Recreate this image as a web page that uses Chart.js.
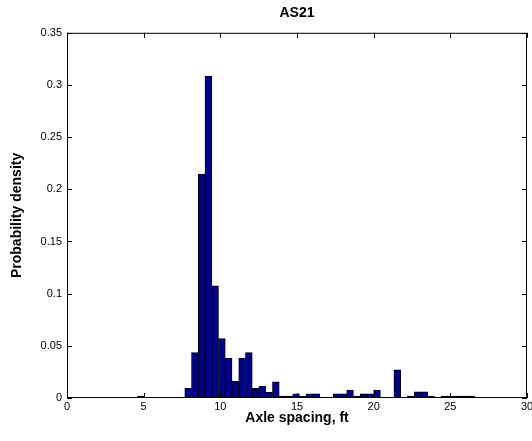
<!DOCTYPE html>
<html>
<head>
<meta charset="utf-8">
<script src="https://cdn.jsdelivr.net/npm/chart.js@4.4.1/dist/chart.umd.min.js"></script>
<style>
  html, body { margin: 0; padding: 0; background: #fff; overflow: hidden; }
  #wrap { width: 532px; height: 441px; }
</style>
</head>
<body>
<div id="wrap"><canvas id="histChart" width="532" height="441"></canvas></div>
<script>
// histogram bins (centre of each bin, ft)
const binCenters = [
  4.82, 5.26, 5.70, 6.14, 6.58, 7.02, 7.46, 7.90, 8.34, 8.78,
  9.22, 9.66, 10.10, 10.54, 10.98, 11.42, 11.86, 12.30, 12.74, 13.18,
  13.62, 14.06, 14.50, 14.94, 15.38, 15.82, 16.26, 16.70, 17.14, 17.58,
  18.02, 18.46, 18.90, 19.34, 19.78, 20.22, 20.66, 21.10, 21.54, 21.98,
  22.42, 22.86, 23.30, 23.74, 24.18, 24.62, 25.06, 25.50, 25.94, 26.38
];
const density = [
  0.0019, 0, 0, 0, 0, 0, 0, 0.0093, 0.0435, 0.2145,
  0.3085, 0.1075, 0.0570, 0.0380, 0.0160, 0.0380, 0.0435, 0.0093, 0.0112, 0.0054,
  0.0154, 0.0019, 0.0019, 0.0039, 0.0019, 0.0039, 0.0039, 0, 0, 0.0039,
  0.0039, 0.0077, 0.0019, 0.0039, 0.0039, 0.0077, 0, 0, 0.0270, 0,
  0.0019, 0.0058, 0.0058, 0.0019, 0, 0.0019, 0.0019, 0.0019, 0.0019, 0.0019
];
const xTicks = [0, 5, 10, 15, 20, 25, 30];
const yTicks = [0, 0.05, 0.1, 0.15, 0.2, 0.25, 0.3, 0.35];

const fontFam = '"Liberation Sans", Arial, Helvetica, sans-serif';

// MATLAB style box with inward tick marks
const matlabAxes = {
    id: 'matlabAxes',
    afterDatasetsDraw(chart) {
        const { ctx, chartArea: a, scales } = chart;
        const len = 5;
        ctx.save();
        ctx.strokeStyle = '#000';
        ctx.lineWidth = 1;
        ctx.strokeRect(a.left + 0.5, a.top + 0.5, a.right - a.left - 1, a.bottom - a.top - 1);
        ctx.beginPath();
        scales.x.ticks.forEach(t => {
            const px = Math.round(scales.x.getPixelForValue(t.value)) + 0.5;
            ctx.moveTo(px, a.bottom); ctx.lineTo(px, a.bottom - len);
            ctx.moveTo(px, a.top); ctx.lineTo(px, a.top + len);
        });
        scales.y.ticks.forEach(t => {
            const py = Math.round(scales.y.getPixelForValue(t.value)) + 0.5;
            ctx.moveTo(a.left, py); ctx.lineTo(a.left + len, py);
            ctx.moveTo(a.right, py); ctx.lineTo(a.right - len, py);
        });
        ctx.stroke();
        ctx.restore();
    }
};

const ctx = document.getElementById('histChart').getContext('2d');
new Chart(ctx, {
    type: 'bar',
    data: {
        datasets: [{
            data: binCenters.map((c, i) => ({ x: c, y: density[i] })),
            backgroundColor: '#00008f',
            borderColor: '#000000',
            borderWidth: 1,
            barPercentage: 1.0,
            categoryPercentage: 1.0
        }]
    },
    options: {
        responsive: false,
        animation: false,
        layout: { padding: { left: 0, right: 5, top: 0, bottom: 14 } },
        plugins: {
            legend: { display: false },
            tooltip: { enabled: false },
            title: {
                display: true,
                fullSize: false,
                text: 'AS21',
                color: '#000',
                font: { family: fontFam, size: 14, weight: 'bold' },
                padding: { top: 5, bottom: 11 }
            }
        },
        scales: {
            x: {
                type: 'linear',
                offset: false,
                min: 0,
                max: 30,
                afterBuildTicks: s => { s.ticks = xTicks.map(v => ({ value: v })); },
                ticks: { color: '#000', font: { family: fontFam, size: 11 }, padding: 2, maxRotation: 0 },
                grid: { display: false, drawTicks: false, offset: false },
                border: { display: false },
                title: {
                    display: true,
                    text: 'Axle spacing, ft',
                    color: '#000',
                    font: { family: fontFam, size: 14, weight: 'bold' },
                    padding: { top: 0, bottom: 0 }
                },
                afterFit: s => { s.height = 29; s.paddingLeft = 0; s.paddingRight = 0; }
            },
            y: {
                min: 0,
                max: 0.35,
                afterBuildTicks: s => { s.ticks = yTicks.map(v => ({ value: v })); },
                ticks: {
                    color: '#000',
                    font: { family: fontFam, size: 11 },
                    padding: 5,
                    callback: v => String(+Number(v).toFixed(2))
                },
                grid: { display: false, drawTicks: false },
                border: { display: false },
                title: {
                    display: true,
                    text: 'Probability density',
                    color: '#000',
                    font: { family: fontFam, size: 14, weight: 'bold' },
                    padding: { top: 9, bottom: 4 }
                },
                afterFit: s => { s.width = 67; }
            }
        }
    },
    plugins: [matlabAxes]
});
</script>
</body>
</html>
